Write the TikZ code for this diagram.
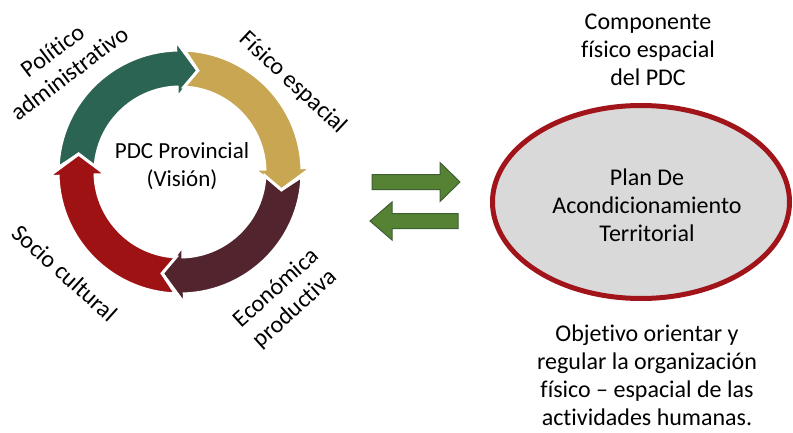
\documentclass[tikz,border=0pt]{standalone}
\usepackage{fontspec}
\setmainfont{Carlito}[Ligatures=NoCommon]
\usetikzlibrary{shapes.geometric}
\definecolor{cyclegreen}{RGB}{44,100,84}
\definecolor{cycleyellow}{RGB}{200,166,82}
\definecolor{cyclewine}{RGB}{82,36,46}
\definecolor{cyclered}{RGB}{158,18,20}
\definecolor{flowgreen}{RGB}{86,130,52}
\definecolor{flowedge}{RGB}{62,94,52}
\definecolor{planred}{RGB}{160,20,26}
\definecolor{plangray}{RGB}{217,217,217}
% one curved arrow of the cycle: #1 colour, #2 angle of the previous tip
\newcommand\ringarrow[2]{%
  \pgfmathsetmacro\arA{#2}%
  \pgfmathsetmacro\arB{#2-78}%
  \pgfmathsetmacro\arC{#2-90}%
  \filldraw[ringpiece, fill=#1]
    ({\arA+8}:122) arc[start angle={\arA+8}, end angle=\arB, radius=122]
    -- (\arB:132) -- (\arC:103) -- (\arB:74) -- (\arB:85)
    arc[start angle=\arB, end angle={\arA+7.4}, radius=85]
    -- (\arA:103) -- cycle;}
\begin{document}
\begin{tikzpicture}[x=1pt,y=1pt,
  lbl/.style={align=center, font=\fontsize{24}{28}\selectfont, inner sep=0pt},
  ringpiece/.style={draw=white, line width=3pt, line join=miter},
  flowarrow/.style={fill=flowgreen, draw=flowedge, line width=1pt, line join=miter}]
\useasboundingbox (0,0) rectangle (793,432);
\fill[white] (0,0) rectangle (793,432);

% cycle of four components
\begin{scope}[shift={(180,260)}]
  \ringarrow{cyclegreen}{170}
  \ringarrow{cycleyellow}{80}
  \ringarrow{cyclewine}{-10}
  \ringarrow{cyclered}{-100}
\end{scope}
\node[lbl, font=\fontsize{23}{28}\selectfont] (pdc) at (182,266) {PDC Provincial\\(Visión)};
\node[lbl, rotate=37] (pol) at (61,370) {Político\\administrativo};
\node[lbl, rotate=-43] (fis) at (293,349) {Físico espacial};
\node[lbl, rotate=-42] (soc) at (65,159) {Socio cultural};
\node[lbl, rotate=42] (eco) at (286,133) {Económica\\productiva};

% exchange arrows
\draw[flowarrow] (372,242.5) -- (440,242.5) -- (440,230.5) -- (460,250)
  -- (440,269.5) -- (440,257.5) -- (372,257.5) -- cycle;
\draw[flowarrow] (458,203.5) -- (392,203.5) -- (392,192) -- (370,211)
  -- (392,230) -- (392,218.5) -- (458,218.5) -- cycle;

% plan
\node[lbl] (comp) at (648,382) {Componente\\físico espacial\\del PDC};
\node[ellipse, draw=planred, fill=plangray, line width=5pt,
  minimum width=297pt, minimum height=193pt, inner sep=0pt] (plan) at (641,230) {};
\node[lbl] (plantxt) at (647,227) {Plan De\\Acondicionamiento\\Territorial};
\node[lbl] (obj) at (647,57) {Objetivo orientar y\\regular la organización\\físico – espacial de las\\actividades humanas.};
\end{tikzpicture}
\end{document}
